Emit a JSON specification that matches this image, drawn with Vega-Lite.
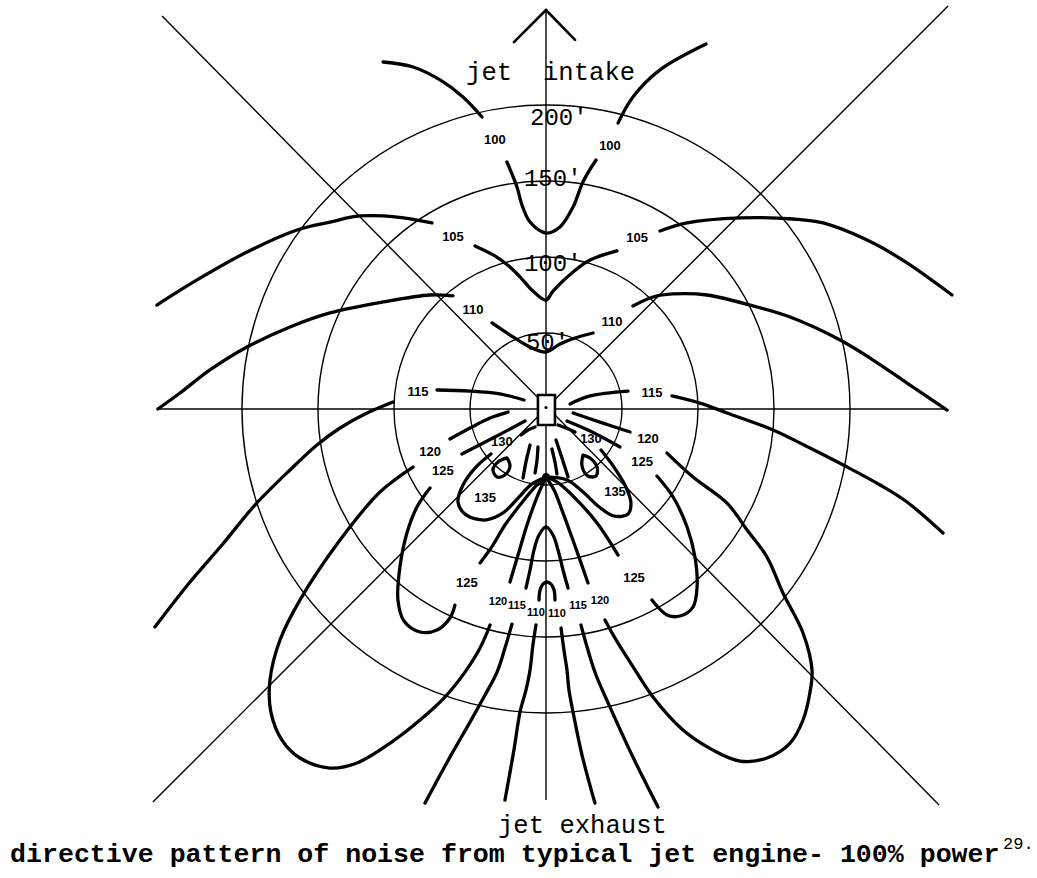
{
  "$schema": "https://vega.github.io/schema/vega-lite/v6.json",
  "width": 1037,
  "height": 878,
  "autosize": "none",
  "padding": 0,
  "background": "white",
  "config": {"view": {"stroke": null}},
  "datasets": {
    "rings": [{"r": 50, "x": 0, "y": 0}, {"r": 100, "x": 0, "y": 0}, {"r": 150, "x": 0, "y": 0}, {"r": 200, "x": 0, "y": 0}],
    "guides": [
      {"name": "diagonal NW-SE", "x": -252.6, "y": 258.6, "x2": 258.6, "y2": -260.5},
      {"name": "diagonal NE-SW", "x": 264.5, "y": 265.1, "x2": -258.6, "y2": -258.6},
      {"name": "lateral axis", "x": -255.3, "y": 0, "x2": 263.8, "y2": 0},
      {"name": "engine axis", "x": 0, "y": 262.5, "x2": 0, "y2": -257.2}
    ],
    "arrow": [
      {"x": -21.1, "y": 241.4, "x2": 0, "y2": 262.5},
      {"x": 19.1, "y": 242.8, "x2": 0, "y2": 262.5}
    ],
    "engine": [{"x": -5.3, "x2": 5.9, "y": 9.2, "y2": -10.5}],
    "engineCentre": [{"x": 0, "y": 1.0}],
    "junction": [{"x": 0, "y": -44.7}],
    "contours": [
      {"seg": "100-1", "i": 1, "x": -107.2, "y": 228.3}, {"seg": "100-1", "i": 2, "x": -87.5, "y": 225.0}, {"seg": "100-1", "i": 3, "x": -69.7, "y": 216.5}, {"seg": "100-1", "i": 4, "x": -54.6, "y": 205.3}, {"seg": "100-1", "i": 5, "x": -42.1, "y": 192.1},
      {"seg": "100-2", "i": 1, "x": -25.7, "y": 162.5}, {"seg": "100-2", "i": 2, "x": -19.1, "y": 146.1}, {"seg": "100-2", "i": 3, "x": -15.8, "y": 134.2}, {"seg": "100-2", "i": 4, "x": -10.5, "y": 123.0}, {"seg": "100-2", "i": 5, "x": 0, "y": 115.8}, {"seg": "100-2", "i": 6, "x": 9.2, "y": 119.8}, {"seg": "100-2", "i": 7, "x": 17.8, "y": 132.9}, {"seg": "100-2", "i": 8, "x": 24.3, "y": 149.4}, {"seg": "100-2", "i": 9, "x": 32.9, "y": 163.8},
      {"seg": "100-3", "i": 1, "x": 47.4, "y": 188.2}, {"seg": "100-3", "i": 2, "x": 57.2, "y": 205.3}, {"seg": "100-3", "i": 3, "x": 75.0, "y": 223.1}, {"seg": "100-3", "i": 4, "x": 105.3, "y": 240.1},
      {"seg": "105-1", "i": 1, "x": -256.0, "y": 68.4}, {"seg": "105-1", "i": 2, "x": -229.6, "y": 84.9}, {"seg": "105-1", "i": 3, "x": -196.7, "y": 103.3}, {"seg": "105-1", "i": 4, "x": -163.8, "y": 117.8}, {"seg": "105-1", "i": 5, "x": -142.1, "y": 123.0}, {"seg": "105-1", "i": 6, "x": -122.4, "y": 127.0}, {"seg": "105-1", "i": 7, "x": -98.0, "y": 126.3}, {"seg": "105-1", "i": 8, "x": -75.0, "y": 122.4},
      {"seg": "105-2", "i": 1, "x": -46.7, "y": 107.3}, {"seg": "105-2", "i": 2, "x": -33.6, "y": 100.7}, {"seg": "105-2", "i": 3, "x": -23.7, "y": 93.4}, {"seg": "105-2", "i": 4, "x": -15.8, "y": 85.5}, {"seg": "105-2", "i": 5, "x": -8.6, "y": 77.6}, {"seg": "105-2", "i": 6, "x": 0, "y": 71.7}, {"seg": "105-2", "i": 7, "x": 4.6, "y": 77.6}, {"seg": "105-2", "i": 8, "x": 17.8, "y": 90.1}, {"seg": "105-2", "i": 9, "x": 29.0, "y": 98.0}, {"seg": "105-2", "i": 10, "x": 46.7, "y": 104.0},
      {"seg": "105-3", "i": 1, "x": 75.0, "y": 117.1}, {"seg": "105-3", "i": 2, "x": 92.8, "y": 122.4}, {"seg": "105-3", "i": 3, "x": 127.7, "y": 125.7}, {"seg": "105-3", "i": 4, "x": 162.5, "y": 125.0}, {"seg": "105-3", "i": 5, "x": 182.3, "y": 122.4}, {"seg": "105-3", "i": 6, "x": 215.2, "y": 109.2}, {"seg": "105-3", "i": 7, "x": 237.5, "y": 96.1}, {"seg": "105-3", "i": 8, "x": 267.1, "y": 75.0},
      {"seg": "110-1", "i": 1, "x": -255.3, "y": 0}, {"seg": "110-1", "i": 2, "x": -240.8, "y": 10.5}, {"seg": "110-1", "i": 3, "x": -221.1, "y": 25.7}, {"seg": "110-1", "i": 4, "x": -196.7, "y": 40.8}, {"seg": "110-1", "i": 5, "x": -168.4, "y": 54.0}, {"seg": "110-1", "i": 6, "x": -142.1, "y": 63.2}, {"seg": "110-1", "i": 7, "x": -107.3, "y": 70.4}, {"seg": "110-1", "i": 8, "x": -76.3, "y": 75.0}, {"seg": "110-1", "i": 9, "x": -61.2, "y": 74.4},
      {"seg": "110-2", "i": 1, "x": -35.5, "y": 56.6}, {"seg": "110-2", "i": 2, "x": -21.7, "y": 47.4}, {"seg": "110-2", "i": 3, "x": -10.5, "y": 40.8}, {"seg": "110-2", "i": 4, "x": 0, "y": 37.5}, {"seg": "110-2", "i": 5, "x": 9.2, "y": 42.8}, {"seg": "110-2", "i": 6, "x": 19.1, "y": 46.7}, {"seg": "110-2", "i": 7, "x": 30.9, "y": 50.0},
      {"seg": "110-3", "i": 1, "x": 57.2, "y": 67.8}, {"seg": "110-3", "i": 2, "x": 70.4, "y": 73.7}, {"seg": "110-3", "i": 3, "x": 83.6, "y": 75.7}, {"seg": "110-3", "i": 4, "x": 105.9, "y": 75.0}, {"seg": "110-3", "i": 5, "x": 138.8, "y": 67.1}, {"seg": "110-3", "i": 6, "x": 160.6, "y": 60.5}, {"seg": "110-3", "i": 7, "x": 193.5, "y": 45.4}, {"seg": "110-3", "i": 8, "x": 215.2, "y": 32.2}, {"seg": "110-3", "i": 9, "x": 237.5, "y": 17.1}, {"seg": "110-3", "i": 10, "x": 263.9, "y": -0.7},
      {"seg": "110-4", "i": 1, "x": -27.0, "y": -257.3}, {"seg": "110-4", "i": 2, "x": -21.1, "y": -224.4}, {"seg": "110-4", "i": 3, "x": -17.1, "y": -199.4}, {"seg": "110-4", "i": 4, "x": -13.2, "y": -184.9}, {"seg": "110-4", "i": 5, "x": -10.5, "y": -171.7}, {"seg": "110-4", "i": 6, "x": -8.6, "y": -155.3}, {"seg": "110-4", "i": 7, "x": -6.6, "y": -142.1},
      {"seg": "110-5", "i": 1, "x": -4.6, "y": -125.7}, {"seg": "110-5", "i": 2, "x": -3.9, "y": -119.1}, {"seg": "110-5", "i": 3, "x": -2.0, "y": -115.2}, {"seg": "110-5", "i": 4, "x": 0.7, "y": -113.8}, {"seg": "110-5", "i": 5, "x": 3.3, "y": -115.2}, {"seg": "110-5", "i": 6, "x": 5.3, "y": -119.1}, {"seg": "110-5", "i": 7, "x": 5.9, "y": -125.7},
      {"seg": "110-6", "i": 1, "x": 9.9, "y": -144.1}, {"seg": "110-6", "i": 2, "x": 11.8, "y": -158.6}, {"seg": "110-6", "i": 3, "x": 13.8, "y": -171.7}, {"seg": "110-6", "i": 4, "x": 15.1, "y": -184.9}, {"seg": "110-6", "i": 5, "x": 17.8, "y": -199.4}, {"seg": "110-6", "i": 6, "x": 23.7, "y": -227.7}, {"seg": "110-6", "i": 7, "x": 32.2, "y": -259.3},
      {"seg": "115-1", "i": 1, "x": -257.3, "y": -143.4}, {"seg": "115-1", "i": 2, "x": -234.2, "y": -113.8}, {"seg": "115-1", "i": 3, "x": -213.2, "y": -89.5}, {"seg": "115-1", "i": 4, "x": -191.5, "y": -63.2}, {"seg": "115-1", "i": 5, "x": -168.4, "y": -40.1}, {"seg": "115-1", "i": 6, "x": -150.7, "y": -23.7}, {"seg": "115-1", "i": 7, "x": -135.5, "y": -12.5}, {"seg": "115-1", "i": 8, "x": -119.1, "y": -3.3}, {"seg": "115-1", "i": 9, "x": -100.7, "y": 4.6},
      {"seg": "115-2", "i": 1, "x": -71.7, "y": 12.5}, {"seg": "115-2", "i": 2, "x": -50.0, "y": 11.8}, {"seg": "115-2", "i": 3, "x": -30.3, "y": 9.9}, {"seg": "115-2", "i": 4, "x": -14.5, "y": 5.9},
      {"seg": "115-3", "i": 1, "x": 15.8, "y": 3.3}, {"seg": "115-3", "i": 2, "x": 29.0, "y": 8.6}, {"seg": "115-3", "i": 3, "x": 54.0, "y": 11.8},
      {"seg": "115-4", "i": 1, "x": 82.9, "y": 8.6}, {"seg": "115-4", "i": 2, "x": 101.3, "y": 3.9}, {"seg": "115-4", "i": 3, "x": 119.1, "y": -2.6}, {"seg": "115-4", "i": 4, "x": 149.4, "y": -13.8}, {"seg": "115-4", "i": 5, "x": 173.7, "y": -25.7}, {"seg": "115-4", "i": 6, "x": 198.1, "y": -38.2}, {"seg": "115-4", "i": 7, "x": 219.8, "y": -50.0}, {"seg": "115-4", "i": 8, "x": 237.5, "y": -61.2}, {"seg": "115-4", "i": 9, "x": 261.2, "y": -81.6},
      {"seg": "115-5", "i": 1, "x": -79.6, "y": -259.3}, {"seg": "115-5", "i": 2, "x": -63.2, "y": -229.0}, {"seg": "115-5", "i": 3, "x": -50.0, "y": -206.0}, {"seg": "115-5", "i": 4, "x": -40.1, "y": -188.2}, {"seg": "115-5", "i": 5, "x": -32.2, "y": -173.1}, {"seg": "115-5", "i": 6, "x": -27.0, "y": -157.3}, {"seg": "115-5", "i": 7, "x": -22.4, "y": -141.5},
      {"seg": "115-6", "i": 1, "x": -13.2, "y": -117.8}, {"seg": "115-6", "i": 2, "x": -10.5, "y": -105.9}, {"seg": "115-6", "i": 3, "x": -7.9, "y": -92.8}, {"seg": "115-6", "i": 4, "x": -4.6, "y": -82.9}, {"seg": "115-6", "i": 5, "x": 0, "y": -77.6}, {"seg": "115-6", "i": 6, "x": 4.6, "y": -82.9}, {"seg": "115-6", "i": 7, "x": 7.9, "y": -92.8}, {"seg": "115-6", "i": 8, "x": 11.2, "y": -105.9}, {"seg": "115-6", "i": 9, "x": 14.5, "y": -117.8},
      {"seg": "115-7", "i": 1, "x": 23.0, "y": -142.1}, {"seg": "115-7", "i": 2, "x": 27.6, "y": -158.6}, {"seg": "115-7", "i": 3, "x": 32.9, "y": -175.0}, {"seg": "115-7", "i": 4, "x": 42.1, "y": -196.1}, {"seg": "115-7", "i": 5, "x": 57.2, "y": -229.0}, {"seg": "115-7", "i": 6, "x": 73.7, "y": -261.9},
      {"seg": "120-1", "i": 1, "x": -25.0, "y": -2.0}, {"seg": "120-1", "i": 2, "x": -36.8, "y": -5.9}, {"seg": "120-1", "i": 3, "x": -48.7, "y": -11.8}, {"seg": "120-1", "i": 4, "x": -63.2, "y": -19.7},
      {"seg": "120-2", "i": 1, "x": -87.5, "y": -38.2}, {"seg": "120-2", "i": 2, "x": -109.2, "y": -54.6}, {"seg": "120-2", "i": 3, "x": -135.5, "y": -86.2}, {"seg": "120-2", "i": 4, "x": -161.9, "y": -125.7}, {"seg": "120-2", "i": 5, "x": -175.0, "y": -152.0}, {"seg": "120-2", "i": 6, "x": -181.6, "y": -178.3}, {"seg": "120-2", "i": 7, "x": -181.0, "y": -199.4}, {"seg": "120-2", "i": 8, "x": -173.7, "y": -217.8}, {"seg": "120-2", "i": 9, "x": -161.9, "y": -229.6}, {"seg": "120-2", "i": 10, "x": -142.1, "y": -236.2}, {"seg": "120-2", "i": 11, "x": -124.4, "y": -232.9}, {"seg": "120-2", "i": 12, "x": -100.7, "y": -218.5}, {"seg": "120-2", "i": 13, "x": -82.9, "y": -204.6}, {"seg": "120-2", "i": 14, "x": -66.5, "y": -189.5}, {"seg": "120-2", "i": 15, "x": -53.3, "y": -173.1}, {"seg": "120-2", "i": 16, "x": -43.4, "y": -157.3}, {"seg": "120-2", "i": 17, "x": -36.8, "y": -142.1},
      {"seg": "120-3", "i": 1, "x": -23.7, "y": -113.8}, {"seg": "120-3", "i": 2, "x": -18.4, "y": -96.1}, {"seg": "120-3", "i": 3, "x": -12.5, "y": -76.3}, {"seg": "120-3", "i": 4, "x": -5.9, "y": -57.9}, {"seg": "120-3", "i": 5, "x": 0, "y": -44.7},
      {"seg": "120-4", "i": 1, "x": 17.8, "y": -2.6}, {"seg": "120-4", "i": 2, "x": 35.5, "y": -8.6}, {"seg": "120-4", "i": 3, "x": 55.3, "y": -15.1},
      {"seg": "120-5", "i": 1, "x": 79.6, "y": -29.0}, {"seg": "120-5", "i": 2, "x": 96.7, "y": -44.7}, {"seg": "120-5", "i": 3, "x": 119.1, "y": -61.9}, {"seg": "120-5", "i": 4, "x": 132.3, "y": -79.6}, {"seg": "120-5", "i": 5, "x": 145.4, "y": -97.4}, {"seg": "120-5", "i": 6, "x": 155.9, "y": -121.1}, {"seg": "120-5", "i": 7, "x": 169.1, "y": -147.4}, {"seg": "120-5", "i": 8, "x": 175.0, "y": -171.7}, {"seg": "120-5", "i": 9, "x": 173.7, "y": -186.2}, {"seg": "120-5", "i": 10, "x": 169.1, "y": -204.6}, {"seg": "120-5", "i": 11, "x": 160.6, "y": -219.8}, {"seg": "120-5", "i": 12, "x": 145.4, "y": -229.6}, {"seg": "120-5", "i": 13, "x": 127.7, "y": -231.6}, {"seg": "120-5", "i": 14, "x": 109.9, "y": -224.4}, {"seg": "120-5", "i": 15, "x": 90.1, "y": -211.2}, {"seg": "120-5", "i": 16, "x": 70.4, "y": -189.5}, {"seg": "120-5", "i": 17, "x": 55.3, "y": -166.5}, {"seg": "120-5", "i": 18, "x": 45.4, "y": -150.7}, {"seg": "120-5", "i": 19, "x": 38.8, "y": -138.8},
      {"seg": "120-6", "i": 1, "x": 27.6, "y": -114.5}, {"seg": "120-6", "i": 2, "x": 22.4, "y": -99.4}, {"seg": "120-6", "i": 3, "x": 16.5, "y": -82.9}, {"seg": "120-6", "i": 4, "x": 10.5, "y": -66.5}, {"seg": "120-6", "i": 5, "x": 5.3, "y": -53.3}, {"seg": "120-6", "i": 6, "x": 0, "y": -44.7},
      {"seg": "125-1", "i": 1, "x": -13.8, "y": -7.9}, {"seg": "125-1", "i": 2, "x": -33.6, "y": -18.4}, {"seg": "125-1", "i": 3, "x": -55.3, "y": -29.6},
      {"seg": "125-2", "i": 1, "x": -76.3, "y": -52.0}, {"seg": "125-2", "i": 2, "x": -84.9, "y": -64.5}, {"seg": "125-2", "i": 3, "x": -91.5, "y": -81.6}, {"seg": "125-2", "i": 4, "x": -96.1, "y": -104.0}, {"seg": "125-2", "i": 5, "x": -97.4, "y": -125.7}, {"seg": "125-2", "i": 6, "x": -93.4, "y": -139.5}, {"seg": "125-2", "i": 7, "x": -82.9, "y": -146.7}, {"seg": "125-2", "i": 8, "x": -71.7, "y": -145.4}, {"seg": "125-2", "i": 9, "x": -63.2, "y": -137.5}, {"seg": "125-2", "i": 10, "x": -59.9, "y": -129.0},
      {"seg": "125-3", "i": 1, "x": -43.4, "y": -101.3}, {"seg": "125-3", "i": 2, "x": -34.9, "y": -89.5}, {"seg": "125-3", "i": 3, "x": -27.0, "y": -76.3}, {"seg": "125-3", "i": 4, "x": -17.1, "y": -63.2}, {"seg": "125-3", "i": 5, "x": -7.2, "y": -51.3}, {"seg": "125-3", "i": 6, "x": 0, "y": -44.7},
      {"seg": "125-4", "i": 1, "x": 13.8, "y": -7.9}, {"seg": "125-4", "i": 2, "x": 29.0, "y": -14.5}, {"seg": "125-4", "i": 3, "x": 48.7, "y": -25.0},
      {"seg": "125-5", "i": 1, "x": 73.0, "y": -44.1}, {"seg": "125-5", "i": 2, "x": 83.6, "y": -57.9}, {"seg": "125-5", "i": 3, "x": 92.8, "y": -77.6}, {"seg": "125-5", "i": 4, "x": 98.0, "y": -97.4}, {"seg": "125-5", "i": 5, "x": 99.4, "y": -117.1}, {"seg": "125-5", "i": 6, "x": 96.7, "y": -130.3}, {"seg": "125-5", "i": 7, "x": 88.2, "y": -136.2}, {"seg": "125-5", "i": 8, "x": 79.6, "y": -135.5}, {"seg": "125-5", "i": 9, "x": 69.7, "y": -125.7},
      {"seg": "125-6", "i": 1, "x": 47.4, "y": -96.1}, {"seg": "125-6", "i": 2, "x": 33.6, "y": -75.0}, {"seg": "125-6", "i": 3, "x": 20.4, "y": -59.9}, {"seg": "125-6", "i": 4, "x": 7.2, "y": -48.0}, {"seg": "125-6", "i": 5, "x": 0, "y": -44.7},
      {"seg": "130-1", "i": 1, "x": -7.2, "y": -11.8}, {"seg": "130-1", "i": 2, "x": -11.8, "y": -13.8}, {"seg": "130-1", "i": 3, "x": -16.4, "y": -17.1},
      {"seg": "130-2", "i": 1, "x": -36.2, "y": -29.6}, {"seg": "130-2", "i": 2, "x": -46.1, "y": -38.2}, {"seg": "130-2", "i": 3, "x": -54.6, "y": -50.0}, {"seg": "130-2", "i": 4, "x": -57.9, "y": -61.2}, {"seg": "130-2", "i": 5, "x": -52.6, "y": -69.7}, {"seg": "130-2", "i": 6, "x": -39.5, "y": -73.0}, {"seg": "130-2", "i": 7, "x": -28.3, "y": -68.4}, {"seg": "130-2", "i": 8, "x": -18.4, "y": -58.6}, {"seg": "130-2", "i": 9, "x": -9.2, "y": -49.3}, {"seg": "130-2", "i": 10, "x": 0, "y": -44.7},
      {"seg": "130-3", "i": 1, "x": 7.9, "y": -10.5}, {"seg": "130-3", "i": 2, "x": 13.2, "y": -12.5}, {"seg": "130-3", "i": 3, "x": 19.1, "y": -15.1},
      {"seg": "130-4", "i": 1, "x": 36.2, "y": -27.0}, {"seg": "130-4", "i": 2, "x": 44.7, "y": -38.2}, {"seg": "130-4", "i": 3, "x": 52.6, "y": -51.3}, {"seg": "130-4", "i": 4, "x": 55.9, "y": -61.9}, {"seg": "130-4", "i": 5, "x": 54.0, "y": -69.1}, {"seg": "130-4", "i": 6, "x": 44.7, "y": -70.4}, {"seg": "130-4", "i": 7, "x": 34.2, "y": -63.8}, {"seg": "130-4", "i": 8, "x": 23.7, "y": -54.0}, {"seg": "130-4", "i": 9, "x": 13.8, "y": -46.7}, {"seg": "130-4", "i": 10, "x": 0, "y": -44.7},
      {"seg": "135-1", "i": 1, "x": -25.7, "y": -32.2}, {"seg": "135-1", "i": 2, "x": -31.6, "y": -34.9}, {"seg": "135-1", "i": 3, "x": -34.9, "y": -40.1}, {"seg": "135-1", "i": 4, "x": -32.2, "y": -44.7}, {"seg": "135-1", "i": 5, "x": -27.0, "y": -43.4}, {"seg": "135-1", "i": 6, "x": -23.7, "y": -37.5}, {"seg": "135-1", "i": 7, "x": -25.7, "y": -32.2},
      {"seg": "135-2", "i": 1, "x": 24.3, "y": -30.3}, {"seg": "135-2", "i": 2, "x": 29.0, "y": -32.2}, {"seg": "135-2", "i": 3, "x": 33.6, "y": -38.2}, {"seg": "135-2", "i": 4, "x": 32.9, "y": -44.1}, {"seg": "135-2", "i": 5, "x": 27.6, "y": -44.1}, {"seg": "135-2", "i": 6, "x": 23.7, "y": -37.5}, {"seg": "135-2", "i": 7, "x": 24.3, "y": -30.3},
      {"seg": "s-1", "i": 1, "x": -10.5, "y": -23.7}, {"seg": "s-1", "i": 2, "x": -13.2, "y": -34.9}, {"seg": "s-1", "i": 3, "x": -15.1, "y": -45.4},
      {"seg": "s-2", "i": 1, "x": -5.3, "y": -25.0}, {"seg": "s-2", "i": 2, "x": -5.9, "y": -33.6}, {"seg": "s-2", "i": 3, "x": -7.2, "y": -42.1},
      {"seg": "s-3", "i": 1, "x": 6.6, "y": -20.4}, {"seg": "s-3", "i": 2, "x": 10.5, "y": -32.2}, {"seg": "s-3", "i": 3, "x": 14.5, "y": -44.7},
      {"seg": "s-4", "i": 1, "x": 3.9, "y": -26.3}, {"seg": "s-4", "i": 2, "x": 5.9, "y": -34.9}, {"seg": "s-4", "i": 3, "x": 7.2, "y": -42.8}
    ],
    "contourLabels": [
      {"text": "100", "x": -33.6, "y": 177.0}, {"text": "100", "x": 42.1, "y": 173.1},
      {"text": "105", "x": -61.2, "y": 113.2}, {"text": "105", "x": 59.9, "y": 112.5},
      {"text": "110", "x": -48.0, "y": 65.1}, {"text": "110", "x": 43.4, "y": 57.2},
      {"text": "115", "x": -84.2, "y": 11.2}, {"text": "115", "x": 69.7, "y": 10.5},
      {"text": "120", "x": -76.3, "y": -28.3}, {"text": "125", "x": -67.8, "y": -40.8},
      {"text": "130", "x": -29.0, "y": -21.7}, {"text": "135", "x": -40.1, "y": -58.6},
      {"text": "120", "x": 67.1, "y": -19.7}, {"text": "125", "x": 63.2, "y": -34.9},
      {"text": "130", "x": 29.6, "y": -19.7}, {"text": "135", "x": 45.4, "y": -54.6},
      {"text": "125", "x": -52.0, "y": -114.5}, {"text": "125", "x": 57.9, "y": -111.2}
    ],
    "fanLabels": [
      {"text": "120", "x": -31.6, "y": -127.0},
      {"text": "115", "x": -19.1, "y": -129.6},
      {"text": "110", "x": -6.6, "y": -134.2},
      {"text": "110", "x": 7.2, "y": -134.9},
      {"text": "115", "x": 21.1, "y": -129.6},
      {"text": "120", "x": 35.5, "y": -126.3}
    ],
    "ringLabels": [
      {"text": "200'", "x": -10.5, "y": 186.8},
      {"text": "150'", "x": -14.5, "y": 146.7},
      {"text": "100'", "x": -14.5, "y": 90.8},
      {"text": "50'", "x": -13.2, "y": 38.8}
    ],
    "axisNames": [
      {"text": "jet", "x": -52.6, "y": 216.5},
      {"text": "intake", "x": -2.0, "y": 216.5},
      {"text": "jet exhaust", "x": -31.6, "y": -279.0}
    ],
    "caption": [{"text": "directive pattern of noise from typical jet engine- 100% power", "x": -352.6, "y": -298.1}],
    "note": [{"text": "29.", "x": 300.7, "y": -289.5}]
  },
  "layer": [
    {
      "data": {"name": "rings"},
      "mark": {"type": "point", "shape": "circle", "filled": false, "color": "black", "strokeWidth": 1.4, "opacity": 1},
      "encoding": {
        "x": {"field": "x", "type": "quantitative", "scale": {"domain": [-359.21, 323.03], "nice": false, "zero": false}, "axis": null},
        "y": {"field": "y", "type": "quantitative", "scale": {"domain": [-308.55, 269.08], "nice": false, "zero": false}, "axis": null},
        "size": {"field": "r", "type": "quantitative", "scale": {"type": "pow", "exponent": 2, "domain": [0, 200], "range": [0, 369664]}, "legend": null}
      }
    },
    {
      "data": {"name": "guides"},
      "mark": {"type": "rule", "color": "black", "strokeWidth": 1.4},
      "encoding": {
        "x": {"field": "x", "type": "quantitative", "scale": {"domain": [-359.21, 323.03], "nice": false, "zero": false}, "axis": null},
        "y": {"field": "y", "type": "quantitative", "scale": {"domain": [-308.55, 269.08], "nice": false, "zero": false}, "axis": null},
        "x2": {"field": "x2"},
        "y2": {"field": "y2"}
      }
    },
    {
      "data": {"name": "arrow"},
      "mark": {"type": "rule", "color": "black", "strokeWidth": 2.6, "strokeCap": "round"},
      "encoding": {
        "x": {"field": "x", "type": "quantitative", "scale": {"domain": [-359.21, 323.03], "nice": false, "zero": false}, "axis": null},
        "y": {"field": "y", "type": "quantitative", "scale": {"domain": [-308.55, 269.08], "nice": false, "zero": false}, "axis": null},
        "x2": {"field": "x2"},
        "y2": {"field": "y2"}
      }
    },
    {
      "data": {"name": "contours"},
      "mark": {"type": "line", "color": "black", "strokeWidth": 3.3, "interpolate": "catmull-rom", "strokeCap": "round", "strokeJoin": "round"},
      "encoding": {
        "x": {"field": "x", "type": "quantitative", "scale": {"domain": [-359.21, 323.03], "nice": false, "zero": false}, "axis": null},
        "y": {"field": "y", "type": "quantitative", "scale": {"domain": [-308.55, 269.08], "nice": false, "zero": false}, "axis": null},
        "detail": {"field": "seg", "type": "nominal"},
        "order": {"field": "i", "type": "quantitative"}
      }
    },
    {
      "data": {"name": "engine"},
      "mark": {"type": "rect", "fill": "white", "stroke": "black", "strokeWidth": 2.6},
      "encoding": {
        "x": {"field": "x", "type": "quantitative", "scale": {"domain": [-359.21, 323.03], "nice": false, "zero": false}, "axis": null},
        "y": {"field": "y", "type": "quantitative", "scale": {"domain": [-308.55, 269.08], "nice": false, "zero": false}, "axis": null},
        "x2": {"field": "x2"},
        "y2": {"field": "y2"}
      }
    },
    {
      "data": {"name": "engineCentre"},
      "mark": {"type": "point", "shape": "circle", "filled": true, "color": "black", "size": 10, "opacity": 1},
      "encoding": {
        "x": {"field": "x", "type": "quantitative", "scale": {"domain": [-359.21, 323.03], "nice": false, "zero": false}, "axis": null},
        "y": {"field": "y", "type": "quantitative", "scale": {"domain": [-308.55, 269.08], "nice": false, "zero": false}, "axis": null}
      }
    },
    {
      "data": {"name": "junction"},
      "mark": {"type": "point", "shape": "circle", "filled": true, "color": "black", "size": 60, "opacity": 1},
      "encoding": {
        "x": {"field": "x", "type": "quantitative", "scale": {"domain": [-359.21, 323.03], "nice": false, "zero": false}, "axis": null},
        "y": {"field": "y", "type": "quantitative", "scale": {"domain": [-308.55, 269.08], "nice": false, "zero": false}, "axis": null}
      }
    },
    {
      "data": {"name": "contourLabels"},
      "mark": {"type": "text", "font": "Liberation Sans", "fontWeight": "bold", "fontSize": 13, "align": "center", "baseline": "middle", "color": "black"},
      "encoding": {
        "x": {"field": "x", "type": "quantitative", "scale": {"domain": [-359.21, 323.03], "nice": false, "zero": false}, "axis": null},
        "y": {"field": "y", "type": "quantitative", "scale": {"domain": [-308.55, 269.08], "nice": false, "zero": false}, "axis": null},
        "text": {"field": "text"}
      }
    },
    {
      "data": {"name": "fanLabels"},
      "mark": {"type": "text", "font": "Liberation Sans", "fontWeight": "bold", "fontSize": 11, "align": "center", "baseline": "middle", "color": "black"},
      "encoding": {
        "x": {"field": "x", "type": "quantitative", "scale": {"domain": [-359.21, 323.03], "nice": false, "zero": false}, "axis": null},
        "y": {"field": "y", "type": "quantitative", "scale": {"domain": [-308.55, 269.08], "nice": false, "zero": false}, "axis": null},
        "text": {"field": "text"}
      }
    },
    {
      "data": {"name": "ringLabels"},
      "mark": {"type": "text", "font": "Liberation Mono", "fontSize": 24, "align": "left", "baseline": "alphabetic", "color": "black"},
      "encoding": {
        "x": {"field": "x", "type": "quantitative", "scale": {"domain": [-359.21, 323.03], "nice": false, "zero": false}, "axis": null},
        "y": {"field": "y", "type": "quantitative", "scale": {"domain": [-308.55, 269.08], "nice": false, "zero": false}, "axis": null},
        "text": {"field": "text"}
      }
    },
    {
      "data": {"name": "axisNames"},
      "mark": {"type": "text", "font": "Liberation Mono", "fontSize": 25.6, "align": "left", "baseline": "alphabetic", "color": "black"},
      "encoding": {
        "x": {"field": "x", "type": "quantitative", "scale": {"domain": [-359.21, 323.03], "nice": false, "zero": false}, "axis": null},
        "y": {"field": "y", "type": "quantitative", "scale": {"domain": [-308.55, 269.08], "nice": false, "zero": false}, "axis": null},
        "text": {"field": "text"}
      }
    },
    {
      "data": {"name": "caption"},
      "mark": {"type": "text", "font": "Liberation Mono", "fontWeight": "bold", "fontSize": 26.6, "align": "left", "baseline": "alphabetic", "color": "black"},
      "encoding": {
        "x": {"field": "x", "type": "quantitative", "scale": {"domain": [-359.21, 323.03], "nice": false, "zero": false}, "axis": null},
        "y": {"field": "y", "type": "quantitative", "scale": {"domain": [-308.55, 269.08], "nice": false, "zero": false}, "axis": null},
        "text": {"field": "text"}
      }
    },
    {
      "data": {"name": "note"},
      "mark": {"type": "text", "font": "Liberation Mono", "fontSize": 17, "align": "left", "baseline": "alphabetic", "color": "black"},
      "encoding": {
        "x": {"field": "x", "type": "quantitative", "scale": {"domain": [-359.21, 323.03], "nice": false, "zero": false}, "axis": null},
        "y": {"field": "y", "type": "quantitative", "scale": {"domain": [-308.55, 269.08], "nice": false, "zero": false}, "axis": null},
        "text": {"field": "text"}
      }
    }
  ]
}
